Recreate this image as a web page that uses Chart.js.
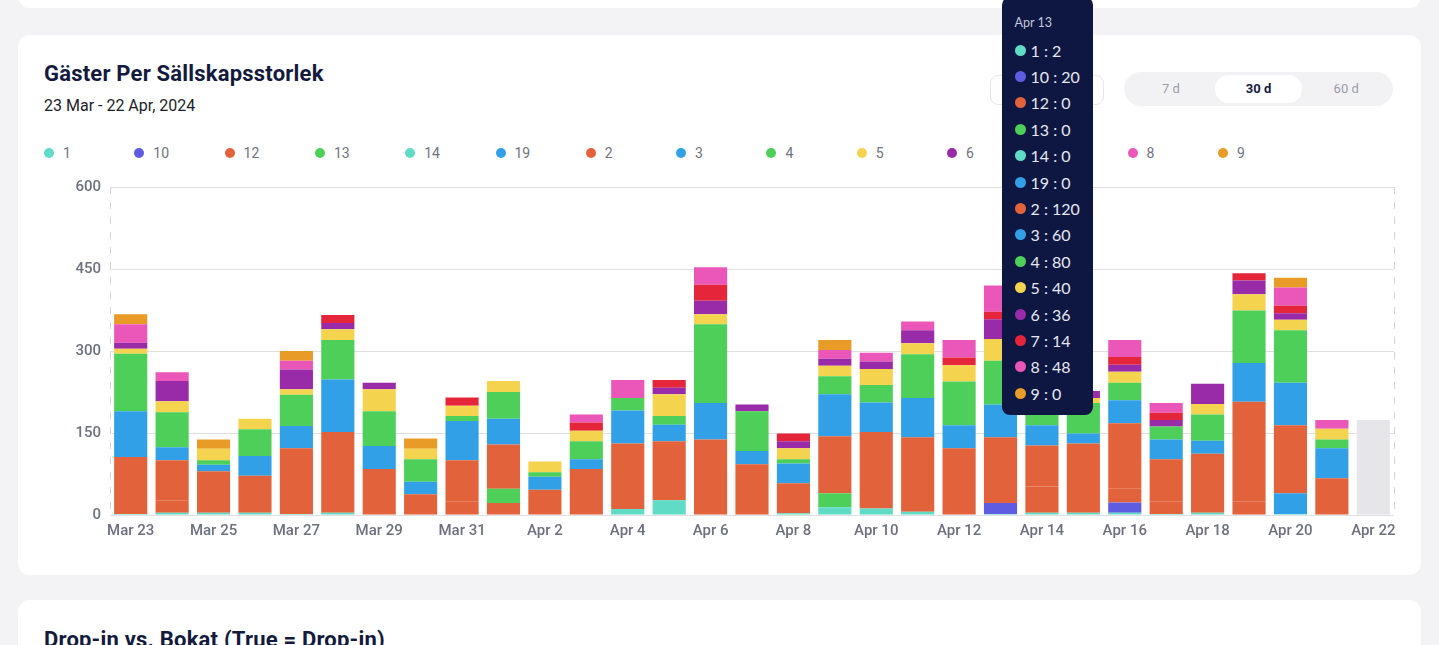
<!DOCTYPE html>
<html>
<head>
<meta charset="utf-8">
<script src="https://cdn.jsdelivr.net/npm/chart.js@4.4.1/dist/chart.umd.min.js"></script>
<style>
  html, body { margin: 0; padding: 0; }
  body { width: 1439px; height: 645px; overflow: hidden; background: #f3f3f5; position: relative; font-family: Roboto, "Noto Sans", sans-serif; }
  .card { position: absolute; left: 18px; width: 1403px; background: #fff; border-radius: 12px; }
  h2 { position: absolute; left: 44px; margin: 0; font-size: 22px; font-weight: 700; color: #141a3d; line-height: 26px; letter-spacing: 0.2px; }
  .sub { position: absolute; left: 44px; top: 96px; font-size: 16px; line-height: 20px; color: #1c1d2a; }
  #legend { position: absolute; left: 44px; top: 144px; height: 18px; }
  .li { position: absolute; top: 0; display: flex; align-items: center; font-size: 14px; line-height: 18px; color: #70737f; white-space: nowrap; }
  .li i { display: inline-block; width: 10px; height: 10px; border-radius: 50%; margin-right: 9px; }
  .seg { position: absolute; left: 1124px; top: 72px; width: 269px; height: 34px; border-radius: 17px; background: #f2f2f5; display: flex; box-sizing: border-box; padding: 3px; }
  .seg div { flex: 1; text-align: center; line-height: 28px; font-size: 13px; color: #9a9caa; border-radius: 14px; }
  .seg div.on { background: #fff; color: #141a3d; font-weight: 700; }
  .drop { position: absolute; left: 990px; top: 75px; width: 114px; height: 30px; border: 1px solid #e6e6eb; border-radius: 8px; box-sizing: border-box; }
  #wrap { position: absolute; left: 40px; top: 169px; width: 1364px; height: 376px; }
  #tip { position: absolute; display: none; width: 91px; box-sizing: border-box; background: #0e1742; border-radius: 8px; padding: 18px 0 9px 13px; font-family: Lato, sans-serif; color: #e6e8f0; }
  #tip .t { font-size: 12.5px; line-height: 16px; color: #c4c8dc; margin-bottom: 6px; }
  #tip .r { display: flex; align-items: center; height: 26.4px; font-size: 16px; white-space: nowrap; }
  #tip .r i { display: inline-block; width: 11px; height: 11px; border-radius: 50%; margin-right: 5px; }
</style>
</head>
<body>
<div class="card" style="top:-40px;height:48px"></div>
<div class="card" style="top:35px;height:540px"></div>
<div class="card" style="top:600px;height:100px"></div>

<h2 style="top:61px">Gäster Per Sällskapsstorlek</h2>
<div class="sub">23 Mar - 22 Apr, 2024</div>
<div class="drop"></div>
<div class="seg"><div>7 d</div><div class="on">30 d</div><div>60 d</div></div>
<div id="legend"></div>
<div id="wrap"><canvas id="grafico"></canvas></div>
<h2 style="top:627px">Drop-in vs. Bokat (True = Drop-in)</h2>
<div id="tip"></div>

<script>
// dagar
var dagar = ['Mar 23','Mar 24','Mar 25','Mar 26','Mar 27','Mar 28','Mar 29','Mar 30','Mar 31',
  'Apr 1','Apr 2','Apr 3','Apr 4','Apr 5','Apr 6','Apr 7','Apr 8','Apr 9','Apr 10','Apr 11',
  'Apr 12','Apr 13','Apr 14','Apr 15','Apr 16','Apr 17','Apr 18','Apr 19','Apr 20','Apr 21','Apr 22'];

// sällskapsstorlek -> gäster per dag
var s1  = [2,4,4,4,2,4,1,0,1,0,0,1,11,27,1,1,3,14,12,6,0,2,4,4,4,2,4,1,2,1,0];
var s10 = [0,0,0,0,0,0,0,0,0,0,0,0,0,0,0,0,0,0,0,0,0,20,0,0,19,0,0,0,0,0,0];
var s12 = [0,23,0,0,0,0,0,0,24,22,0,0,0,0,0,0,0,0,0,0,0,0,48,0,25,23,0,24,0,0,0];
var s13 = [0,0,0,0,0,0,0,0,0,26,0,0,0,0,0,0,0,26,0,0,0,0,0,0,0,0,0,0,0,0,0];
var s14 = [0,0,0,0,0,0,0,0,0,0,0,0,0,0,0,0,0,0,0,0,0,0,0,0,0,0,0,0,0,0,0];
var s19 = [0,0,0,0,0,0,0,0,0,0,0,0,0,0,0,0,0,0,0,0,0,0,0,0,0,0,0,0,38,0,0];
var s2  = [104,73,76,68,120,148,83,38,75,81,46,83,120,108,137,92,55,104,140,136,122,120,75,127,120,77,108,182,124,66,0];
var s3  = [84,24,12,36,41,96,42,23,72,47,24,18,60,30,67,24,36,77,54,72,42,60,37,18,42,36,24,71,78,55,0];
var s4  = [105,64,8,49,57,72,64,41,9,49,8,33,23,16,144,73,8,33,32,80,80,80,45,56,32,24,48,96,96,16,0];
var s5  = [9,20,21,19,10,20,40,19,19,20,20,19,0,40,18,0,20,19,29,20,30,40,15,9,20,0,19,30,19,20,0];
var s6  = [11,37,0,0,36,11,12,0,0,0,0,0,0,12,25,12,13,13,14,24,0,36,10,13,13,12,37,25,12,0,0];
var s7  = [0,0,0,0,0,15,0,0,15,0,0,15,0,14,29,0,14,0,0,0,14,14,0,0,14,13,0,13,14,0,0];
var s8  = [34,16,0,0,16,0,0,0,0,0,0,15,33,0,32,0,0,16,16,16,32,48,0,0,31,18,0,0,33,16,0];
var s9  = [18,0,17,0,18,0,0,19,0,0,0,0,0,0,0,0,0,18,0,0,0,0,0,0,0,0,0,0,18,0,0];
// dagens (ej klar) stapel
var idag = [null,null,null,null,null,null,null,null,null,null,null,null,null,null,null,null,null,null,null,null,null,null,null,null,null,null,null,null,null,null,174];

var namn  = ['1','10','12','13','14','19','2','3','4','5','6','7','8','9'];
var serier = [s1, s10, s12, s13, s14, s19, s2, s3, s4, s5, s6, s7, s8, s9];
var farger = ['#5fdbc6','#5e5ce0','#e2633b','#4dcf5a','#5fdbc6','#31a0e6','#e2633b','#31a0e6',
  '#4dcf5a','#f4d34f','#9a2ba8','#e5263a','#ea57b9','#e99b28'];

var yMax = 600;
var ySteg = 150;

// legend
var leg = document.getElementById('legend');
for (let i = 0; i < namn.length; i++) {
    let d = document.createElement('div');
    d.className = 'li';
    d.style.left = (i * 90.3) + 'px';
    d.innerHTML = '<i style="background:' + farger[i] + '"></i>' + namn[i];
    leg.appendChild(d);
}

function visaTip(context) {
    let tip = context.tooltip;
    let el = document.getElementById('tip');
    if (tip.opacity === 0 || !tip.dataPoints) {
        el.style.display = 'none';
        return;
    }
    let html = '<div class="t">' + tip.title[0] + '</div>';
    tip.dataPoints.forEach(p => {
        html += '<div class="r"><i style="background:' + p.dataset.backgroundColor + '"></i>' +
            p.dataset.label + ' : ' + p.raw + '</div>';
    });
    el.innerHTML = html;
    let box = context.chart.canvas.getBoundingClientRect();
    el.style.display = 'block';
    el.style.left = (box.left + tip.caretX + 1) + 'px';
    el.style.top = '-3px';
}

var datasets = serier.map((s, i) => ({
    label: namn[i],
    data: s,
    backgroundColor: farger[i],
    borderWidth: 0,
    barPercentage: 0.8,
    categoryPercentage: 1.0,
    stack: 'g'
}));
datasets.push({
    label: 'idag',
    data: idag,
    backgroundColor: '#e6e6ea',
    borderWidth: 0,
    barPercentage: 0.8,
    categoryPercentage: 1.0,
    stack: 'g'
});

var ctx = document.getElementById('grafico');
var chart = new Chart(ctx.getContext('2d'), {
    type: 'bar',
    data: { labels: dagar, datasets: datasets },
    options: {
        responsive: true,
        maintainAspectRatio: false,
        animation: false,
        layout: { padding: { top: 10, right: 10, left: 0, bottom: 0 } },
        plugins: {
            legend: { display: false },
            tooltip: { enabled: false, mode: 'index', external: visaTip }
        },
        scales: {
            x: {
                stacked: true,
                grid: { display: false, drawTicks: false },
                border: { display: false },
                ticks: {
                    autoSkip: false,
                    maxRotation: 0,
                    padding: 7,
                    color: '#6d707e',
                    font: { family: 'Roboto', size: 15, weight: 500 },
                    callback: (v, i) => i % 2 === 0 ? dagar[i] : ''
                },
                afterFit: s => { s.height = 30; }
            },
            // streckade kanter vänster och höger
            kant: {
                type: 'linear',
                position: 'bottom',
                min: 0,
                max: 1,
                offset: false,
                grid: { color: '#d3d3d8', drawTicks: false, offset: false },
                border: { display: false, dash: [7, 8] },
                ticks: { display: false, stepSize: 1 },
                afterFit: s => { s.height = 0; }
            },
            y: {
                stacked: true,
                min: 0,
                max: yMax,
                grid: { color: '#dedee3', drawTicks: false },
                border: { display: false },
                ticks: {
                    stepSize: ySteg,
                    padding: 9,
                    color: '#6d707e',
                    font: { family: 'Roboto', size: 15, weight: 500 }
                },
                afterFit: s => { s.width = 70; }
            }
        }
    }
});

// tooltip för Apr 13 som i bilden
var dag = dagar.indexOf('Apr 13');
var aktiva = serier.map((s, i) => ({ datasetIndex: i, index: dag }));
var m = chart.getDatasetMeta(0).data[dag];
chart.tooltip.setActiveElements(aktiva, { x: m.x, y: m.y });
chart.update();
</script>
</body>
</html>
